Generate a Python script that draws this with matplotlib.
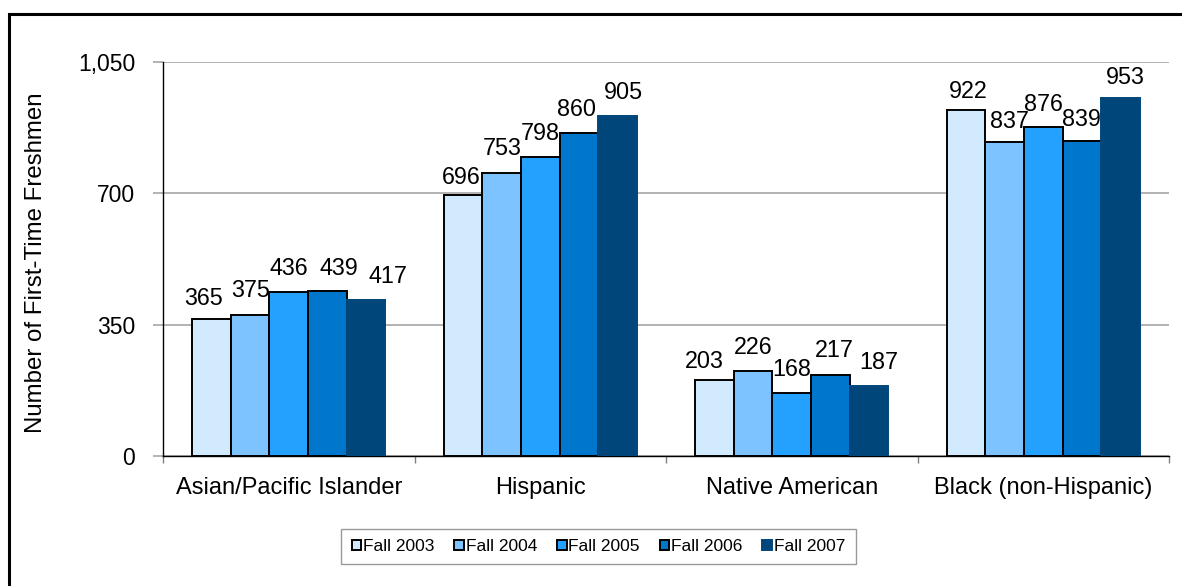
import matplotlib
matplotlib.use("Agg")
import matplotlib.pyplot as plt
import numpy as np
from matplotlib.patches import Rectangle

plt.rcParams['font.family'] = ['Liberation Sans', 'DejaVu Sans']

categories = ["Asian/Pacific Islander", "Hispanic", "Native American", "Black (non-Hispanic)"]
series_names = ["Fall 2003", "Fall 2004", "Fall 2005", "Fall 2006", "Fall 2007"]
fall2003 = [365, 696, 203, 922]
fall2004 = [375, 753, 226, 837]
fall2005 = [436, 798, 168, 876]
fall2006 = [439, 860, 217, 839]
fall2007 = [417, 905, 187, 953]
series = [fall2003, fall2004, fall2005, fall2006, fall2007]
yticks = [0, 350, 700, 1050]
ytick_labels = ["0", "350", "700", "1,050"]

# label nudges in pixels (dx, dy) per series, per category -- layout only
label_dx = [[-8, -2, -10, 2], [0, 1, 0, 5], [0, 0, 0, 0], [12, -2, 4, 0], [22, 6, 10, 5]]
label_dy = [[-2, -5, -4, -4], [2, 2, 1, -2], [1, 1, 1, 0], [0, 1, 2, -1], [1, 1, 1, -2]]

colors = ["#D2EAFD", "#7CC3FF", "#24A0FF", "#0077CC", "#00467A"]
edges = ["black", "black", "black", "black", "#00467A"]

W, H = 1182, 586
fig = plt.figure(figsize=(W / 100, H / 100), dpi=100)
ax = fig.add_axes([163 / W, 1 - 456 / H, (1169 - 163) / W, (456 - 62) / H])

px = 72 / 100.0  # points per pixel
x = np.arange(len(categories))
bw = 0.1535
for i, (vals, name) in enumerate(zip(series, series_names)):
    pos = x + (i - 2) * bw
    ax.bar(pos, vals, bw, color=colors[i], edgecolor=edges[i], linewidth=1.4,
           label=name, zorder=3)
    for j, (p, v) in enumerate(zip(pos, vals)):
        ax.annotate(str(v), (p, v), xytext=(label_dx[i][j] * px, (16 + label_dy[i][j]) * px),
                    textcoords="offset points", ha="center", va="baseline",
                    fontsize=16.8, zorder=4)

ax.set_xlim(-0.5, 3.5)
ax.set_ylim(0, 1050)
ax.set_yticks(yticks)
ax.set_yticklabels(ytick_labels, fontsize=16.5)
ax.set_xticks(x)
ax.set_xticklabels(categories, fontsize=17)
ax.set_xticks([-0.5, 0.5, 1.5, 2.5, 3.5], minor=True)
ax.tick_params(axis="x", which="major", length=0, pad=15)
ax.tick_params(axis="x", which="minor", length=5, color="#808080", width=1)
ax.tick_params(axis="y", length=7, color="#A6A6A6", width=1.2, pad=13)
ax.yaxis.grid(True, color="#A6A6A6", linewidth=1.2, zorder=0)
for s in ["top", "right"]:
    ax.spines[s].set_visible(False)
ax.spines["left"].set_color("black")
ax.spines["left"].set_linewidth(1.0)
ax.spines["bottom"].set_color("black")
ax.spines["bottom"].set_linewidth(1.0)
ax.set_ylabel("Number of First-Time Freshmen", fontsize=17.3)
ax.yaxis.set_label_coords((47 - 163) / (1169 - 163), 0.49)

leg = ax.legend(loc="center", bbox_to_anchor=((598.5 - 163) / (1169 - 163), (456 - 546.5) / (456 - 62)),
                ncol=5, fontsize=12.5, frameon=True, fancybox=False, edgecolor="#808080",
                handlelength=0.55, handleheight=0.55, handletextpad=0.1, columnspacing=1.15,
                borderpad=0.6, borderaxespad=0)
leg.get_frame().set_linewidth(1.0)

# outer chart border
fig.patches.append(Rectangle((8.5 / W, -0.1), 1.2, (1 - 13.5 / H) + 0.1,
                             transform=fig.transFigure, fill=False,
                             edgecolor="black", linewidth=2.2, zorder=10))

fig.savefig("out.png", dpi=100, facecolor="white")
